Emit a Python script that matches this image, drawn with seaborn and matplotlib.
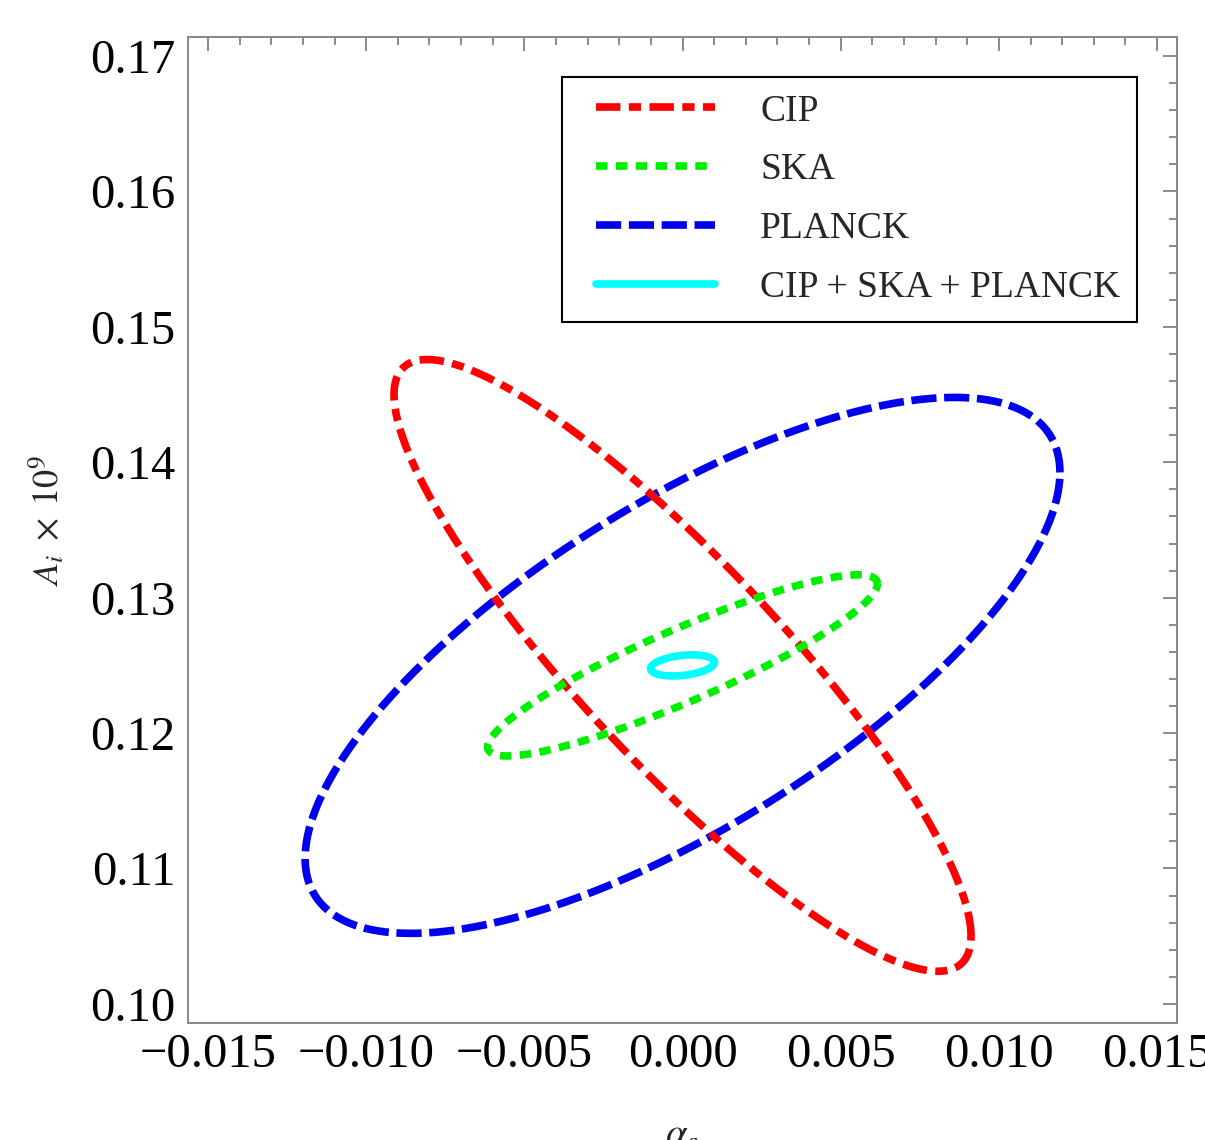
# Fisher forecast ellipses for alpha_s vs A_i (CIP, SKA, PLANCK, combined)

import numpy as np
import pandas as pd
import matplotlib
matplotlib.use("Agg")
import matplotlib.pyplot as plt
import seaborn as sns
from matplotlib.ticker import MultipleLocator, FuncFormatter
from matplotlib.legend_handler import HandlerLine2D

# ellipse data: centre, half widths, correlation
experiments = ["CIP", "SKA", "PLANCK", "CIP + SKA + PLANCK"]
center_alpha = [0.0, 0.0, 0.0, 0.0]
center_amp = [0.1250, 0.1250, 0.1250, 0.1250]
half_alpha = [0.00912, 0.00616, 0.01193, 0.00101]
half_amp = [0.02259, 0.00669, 0.01979, 0.00078]
correlation = [-0.885, 0.90, 0.72, 0.30]

colors = ["#ff0000", "#00ee00", "#0000ee", "#00ffff"]
# dash patterns in units of line width
styles = [(0, (3.2, 1.1, 1.6, 1.1)), (0, (1.5, 1.1)), (0, (3.3, 1.0)), "-"]
draw_order = [2, 0, 1, 3]

sns.set_style("white")
plt.rcParams["font.family"] = ["Liberation Serif", "DejaVu Serif"]
plt.rcParams["mathtext.fontset"] = "stix"


class ShiftedLine(HandlerLine2D):
    # legend line that starts a bit right of the handle box
    def __init__(self, shift, **kw):
        super().__init__(**kw)
        self.shift = shift

    def get_xdata(self, legend, xdescent, ydescent, width, height, fontsize):
        xd, xm = super().get_xdata(legend, xdescent, ydescent, width, height, fontsize)
        xd = np.array(xd, dtype=float)
        xd[0] += self.shift
        return xd, xm


def ellipse_frame(i):
    t = np.linspace(0, 2 * np.pi, 400)
    r = correlation[i]
    x = center_alpha[i] + half_alpha[i] * np.cos(t)
    y = center_amp[i] + half_amp[i] * (r * np.cos(t) + np.sqrt(1 - r ** 2) * np.sin(t))
    return pd.DataFrame({"alpha_s": x, "A_i": y})


fig = plt.figure(figsize=(12.05, 11.4), dpi=100)
ax = fig.add_axes([0.1558, 0.1024, 0.8207, 0.8654])

handles = {}
for i in draw_order:
    df = ellipse_frame(i)
    sns.lineplot(data=df, x="alpha_s", y="A_i", sort=False, estimator=None,
                 color=colors[i], lw=5.5, linestyle=styles[i], ax=ax)
    handles[i] = ax.lines[-1]

ax.set_xlim(-0.01564, 0.01562)
ax.set_ylim(0.09857, 0.17143)

ax.xaxis.set_major_locator(MultipleLocator(0.005))
ax.xaxis.set_minor_locator(MultipleLocator(0.001))
ax.yaxis.set_major_locator(MultipleLocator(0.01))
ax.yaxis.set_minor_locator(MultipleLocator(0.002))
ax.xaxis.set_major_formatter(FuncFormatter(lambda v, p: f"{v:.3f}".replace("-", "\u2212")))
ax.yaxis.set_major_formatter(FuncFormatter(lambda v, p: f"{v:.2f}"))

ax.tick_params(which="both", direction="in", top=True, right=True,
               color="#777777", labelsize=35, labelcolor="black")
ax.tick_params(which="major", length=10, width=1.2)
ax.tick_params(which="minor", length=6, width=1.2)
ax.tick_params(axis="x", pad=7)
ax.tick_params(axis="y", pad=9)
for s in ax.spines.values():
    s.set_color("#888888")
    s.set_linewidth(1.4)

ax.set_xlabel(r"$\alpha_s$", fontsize=28, va="top")
ax.xaxis.set_label_coords(0.5, -0.096)
ax.set_ylabel(r"$A_i\;\times\;10^9$", fontsize=26, va="center")
ax.yaxis.set_label_coords(-0.142, 0.51)

leg = ax.legend([handles[i] for i in range(4)], experiments,
                handler_map={handles[i]: ShiftedLine(12.6) for i in range(4)},
                loc="upper right", bbox_to_anchor=(0.960, 0.959), borderaxespad=0,
                fontsize=27, frameon=True, fancybox=False, framealpha=1,
                handlelength=3.64, handletextpad=1.2, labelspacing=0.65,
                borderpad=0.45)
leg.get_frame().set_edgecolor("black")
leg.get_frame().set_linewidth(1.5)

plt.savefig("out.png", dpi=100)
plt.close()
